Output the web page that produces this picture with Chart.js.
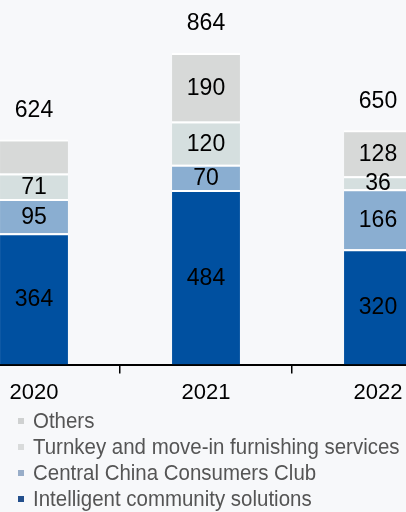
<!DOCTYPE html>
<html>
<head>
<meta charset="utf-8">
<script src="https://cdn.jsdelivr.net/npm/chart.js@4/dist/chart.umd.min.js"></script>
<style>
  html, body { margin: 0; padding: 0; background: #f7f8fa; }
  body { width: 406px; height: 512px; position: relative; overflow: hidden; font-family: "Liberation Sans", Arial, sans-serif; }
  #wrap { position: absolute; left: -52px; top: 0; width: 516px; height: 412px; }
  #legend { position: absolute; left: 0; top: 408px; }
  .row { position: relative; height: 26px; line-height: 26px; }
  .box { position: absolute; left: 18px; top: 10px; width: 6px; height: 6px; }
  .txt { position: absolute; left: 33px; top: 0; white-space: nowrap; font-size: 22px; color: #555; transform: scaleX(0.93); transform-origin: left center; }
</style>
</head>
<body>
<div id="wrap"><canvas id="myChart"></canvas></div>
<div id="legend"></div>
<script>
const years = ['2020', '2021', '2022'];
const intelligent = [364, 484, 320];
const consumersClub = [95, 70, 166];
const turnkey = [71, 120, 36];
const others = [94, 190, 128];
const totals = [624, 864, 650];

const seriesNames = [
	'Intelligent community solutions',
	'Central China Consumers Club',
	'Turnkey and move-in furnishing services',
	'Others'
];
const seriesColors = ['#0050a0', '#8aaed1', '#d5dfdf', '#d7d9d8'];
const legendColors = ['#234f8c', '#98adc8', '#d9dbdb', '#cfd1d1'];

// the 2020 "Others" segment carries no label
const hiddenLabels = [[3, 0]];

const labelFont = '23px "Liberation Sans", Arial, sans-serif';

const valueLabels = {
	id: 'valueLabels',
	afterDatasetsDraw(chart) {
		const ctx = chart.ctx;
		ctx.save();
		ctx.font = labelFont;
		ctx.fillStyle = '#000';
		ctx.textAlign = 'center';
		ctx.textBaseline = 'middle';
		chart.data.datasets.forEach((ds, di) => {
			chart.getDatasetMeta(di).data.forEach((bar, i) => {
				if (hiddenLabels.some(h => h[0] === di && h[1] === i)) return;
				ctx.fillText(ds.data[i], bar.x, (bar.y + bar.base) / 2 + 1);
			});
		});
		const top = chart.getDatasetMeta(chart.data.datasets.length - 1).data;
		const y = chart.scales.y;
		top.forEach((bar, i) => {
			ctx.fillText(totals[i], bar.x, y.getPixelForValue(totals[i]) - 29);
		});
		ctx.restore();
	}
};

function createChart(){
	var chart = document.getElementById('myChart');
	const sets = [intelligent, consumersClub, turnkey, others];

	const data = {
		labels: years,
		datasets: sets.map((values, i) => ({
			label: seriesNames[i],
			data: values,
			backgroundColor: seriesColors[i],
			borderColor: '#ffffff',
			borderWidth: { top: 2, left: 0, right: 0, bottom: 0 },
			borderSkipped: false,
			categoryPercentage: 1,
			barPercentage: 0.395
		}))
	};
	const config = {
		type: 'bar',
		data: data,
		options: {
			responsive: true,
			maintainAspectRatio: false,
			animation: false,
			layout: { padding: 0 },
			plugins: { legend: { display: false }, tooltip: { enabled: false } },
			scales: {
				x: {
					stacked: true,
					offset: true,
					grid: { offset: true, drawOnChartArea: false, drawTicks: true, tickLength: 9, color: '#000', lineWidth: 1.5 },
					border: { display: true, color: '#000', width: 2 },
					ticks: { color: '#000', padding: 6, font: { size: 22, family: '"Liberation Sans", Arial, sans-serif' } }
				},
				y: { stacked: true, display: false, min: 0, max: 1011 }
			}
		},
		plugins: [valueLabels]
	};

	new Chart(chart, config);

	// legend listed top to bottom in reverse stacking order
	const legend = document.getElementById('legend');
	for (let i = seriesNames.length - 1; i >= 0; i--) {
		const row = document.createElement('div');
		row.className = 'row';
		row.innerHTML = '<span class="box" style="background:' + legendColors[i] + '"></span><span class="txt">' + seriesNames[i] + '</span>';
		legend.appendChild(row);
	}
}

document.addEventListener("DOMContentLoaded", createChart);
</script>
</body>
</html>
